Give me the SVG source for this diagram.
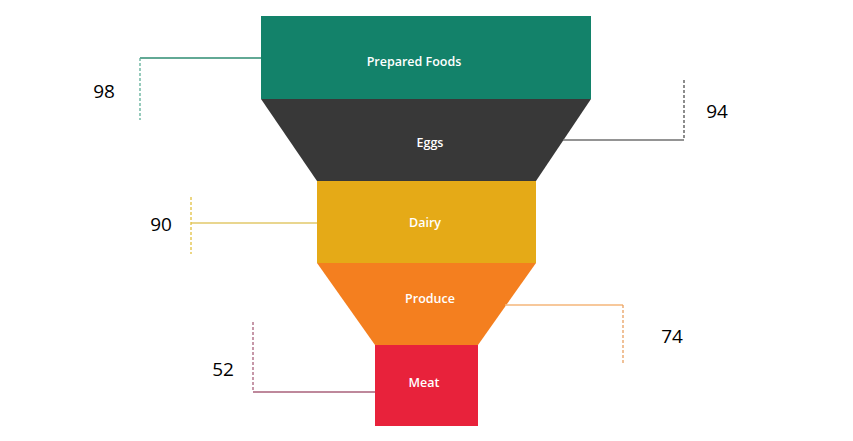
<svg xmlns="http://www.w3.org/2000/svg" width="853" height="441" viewBox="0 0 853 441">
<style>
.lbl{font-family:"Open Sans","Liberation Sans",sans-serif;font-size:12.5px;font-weight:600;fill:#ffffff;text-anchor:middle}
.num{font-family:"Open Sans","Liberation Sans",sans-serif;font-size:19px;font-weight:500;fill:#000000;text-anchor:middle}
.solid{fill:none;stroke-width:1.3}
.dash{fill:none;stroke-width:1.3;stroke-dasharray:3 2}
</style>
<rect width="853" height="441" fill="#ffffff"/>
<g id="prepared-foods">
<rect x="261" y="16" width="330" height="83" fill="#13826A"/>
<text class="lbl" x="414" y="66">Prepared Foods</text>
</g>
<g id="eggs">
<polygon points="261,99 591,99 536,181 317,181" fill="#383838"/>
<text class="lbl" x="430" y="147">Eggs</text>
</g>
<g id="dairy">
<rect x="317" y="181" width="219" height="82" fill="#E5AA17"/>
<text class="lbl" x="425" y="227">Dairy</text>
</g>
<g id="produce">
<polygon points="317,263 536,263 478,345 375,345" fill="#F47F1F"/>
<text class="lbl" x="430" y="303">Produce</text>
</g>
<g id="meat">
<rect x="375" y="345" width="103" height="81" fill="#E8223B"/>
<text class="lbl" x="424" y="387">Meat</text>
</g>
<g id="connectors">
<polyline class="solid" stroke="#2E8C72" points="261,58 140,58"/>
<line class="dash" stroke="#5FAF98" x1="140" y1="58" x2="140" y2="120"/>
<polyline class="solid" stroke="#707070" points="563,140 684,140"/>
<line class="dash" stroke="#505050" x1="684" y1="80" x2="684" y2="140"/>
<polyline class="solid" stroke="#E2C86A" points="317,223 191,223"/>
<line class="dash" stroke="#E2C040" x1="191" y1="197" x2="191" y2="254"/>
<polyline class="solid" stroke="#F4B67A" points="505,305 623,305"/>
<line class="dash" stroke="#E8A060" x1="623" y1="305" x2="623" y2="363"/>
<polyline class="solid" stroke="#A8607A" points="375,392 253,392"/>
<line class="dash" stroke="#A8607A" x1="253" y1="322" x2="253" y2="392"/>
</g>
<g id="values">
<text class="num" x="104" y="98">98</text>
<text class="num" x="717" y="118">94</text>
<text class="num" x="161" y="231">90</text>
<text class="num" x="672" y="343">74</text>
<text class="num" x="223" y="376">52</text>
</g>
</svg>
